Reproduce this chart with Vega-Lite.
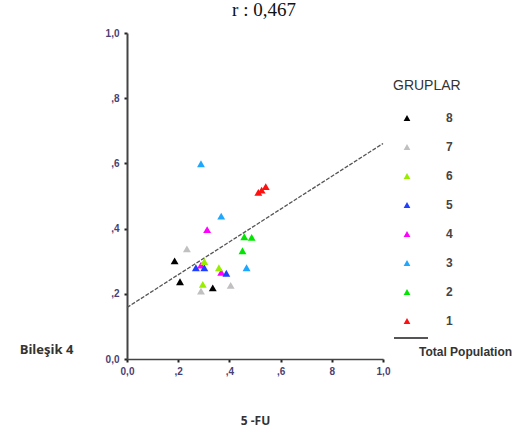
{
  "$schema": "https://vega.github.io/schema/vega-lite/v6.json",
  "width": 256,
  "height": 326,
  "autosize": "none",
  "padding": {"left": 127, "top": 33, "right": 132, "bottom": 77},
  "background": "white",
  "title": {"text": "r : 0,467", "font": "Liberation Serif", "fontSize": 19, "fontWeight": "normal", "color": "#111", "offset": 8, "dx": 9, "anchor": "middle"},
  "config": {"view": {"stroke": null}},
  "encoding": {
    "x": {"field": "x", "type": "quantitative", "scale": {"domain": [0, 1], "nice": false},
      "axis": {"values": [0, 0.2, 0.4, 0.6, 0.8, 1], "grid": false, "labelFlush": false,
        "labelExpr": "datum.value < 0.01 ? '0,0' : datum.value > 0.99 ? '1,0' : (datum.value > 0.79 && datum.value < 0.81) ? '8' : ',' + round(datum.value * 10)",
        "labelFont": "Liberation Sans", "labelFontWeight": "bold", "labelFontSize": 10, "labelColor": "#4b3f72", "labelPadding": 4,
        "domainColor": "#444", "domainWidth": 1.5, "tickColor": "#222", "tickSize": 3, "tickWidth": 2,
        "title": "5 -FU", "titleFont": "Open Sans", "titleFontWeight": "bold", "titleFontSize": 12, "titleColor": "#333",
        "titleX": 128, "titleY": 61, "titleBaseline": "middle", "titleAlign": "center"}},
    "y": {"field": "y", "type": "quantitative", "scale": {"domain": [0, 1], "nice": false},
      "axis": {"values": [0, 0.2, 0.4, 0.6, 0.8, 1], "grid": false, "labelFlush": false,
        "labelExpr": "datum.value < 0.01 ? '0,0' : datum.value > 0.99 ? '1,0' : ',' + round(datum.value * 10)",
        "labelFont": "Liberation Sans", "labelFontWeight": "bold", "labelFontSize": 10, "labelColor": "#4b3f72", "labelPadding": 5,
        "domainColor": "#444", "domainWidth": 2, "tickColor": "#222", "tickSize": 3, "tickWidth": 2,
        "title": "Bileşik 4", "titleAngle": 0, "titleFont": "Open Sans", "titleFontWeight": "bold", "titleFontSize": 13, "titleColor": "#333",
        "titleX": -81, "titleY": 316, "titleBaseline": "middle", "titleAlign": "center"}}
  },
  "layer": [
    {
      "data": {"values": [{"x": 0, "y": 0.158}, {"x": 1, "y": 0.661}]},
      "mark": {"type": "line", "strokeDash": [4, 1.5], "strokeWidth": 1.3},
      "encoding": {
        "stroke": {"datum": "Total Population", "type": "nominal", "scale": {"domain": ["Total Population"], "range": ["#555555"]},
          "legend": {"orient": "none", "legendX": 266, "legendY": 287, "title": null, "symbolType": "stroke", "symbolSize": 1156, "symbolStrokeWidth": 2,
            "symbolDash": [], "labelOffset": -10, "labelExpr": "['', '', datum.label]", "labelFont": "Liberation Sans", "labelFontWeight": "bold", "labelFontSize": 12, "labelColor": "#333", "labelLimit": 200}}
      }
    },
    {
      "data": {"values": [
        {"x": 0.513, "y": 0.511, "g": "1"}, {"x": 0.526, "y": 0.518, "g": "1"}, {"x": 0.542, "y": 0.529, "g": "1"},
        {"x": 0.458, "y": 0.375, "g": "2"}, {"x": 0.487, "y": 0.373, "g": "2"}, {"x": 0.451, "y": 0.332, "g": "2"},
        {"x": 0.289, "y": 0.599, "g": "3"}, {"x": 0.368, "y": 0.438, "g": "3"}, {"x": 0.467, "y": 0.280, "g": "3"},
        {"x": 0.313, "y": 0.397, "g": "4"}, {"x": 0.289, "y": 0.288, "g": "4"}, {"x": 0.368, "y": 0.266, "g": "4"},
        {"x": 0.269, "y": 0.280, "g": "5"}, {"x": 0.302, "y": 0.280, "g": "5"}, {"x": 0.388, "y": 0.263, "g": "5"},
        {"x": 0.302, "y": 0.299, "g": "6"}, {"x": 0.359, "y": 0.280, "g": "6"}, {"x": 0.296, "y": 0.229, "g": "6"},
        {"x": 0.234, "y": 0.338, "g": "7"}, {"x": 0.289, "y": 0.208, "g": "7"}, {"x": 0.405, "y": 0.226, "g": "7"},
        {"x": 0.186, "y": 0.301, "g": "8"}, {"x": 0.207, "y": 0.237, "g": "8"}, {"x": 0.335, "y": 0.218, "g": "8"}
      ]},
      "mark": {"type": "point", "shape": "triangle-up", "filled": true, "size": 62, "opacity": 1},
      "encoding": {
        "fill": {"field": "g", "type": "nominal",
          "scale": {"domain": ["8", "7", "6", "5", "4", "3", "2", "1"], "range": ["#000000", "#c0c0c0", "#99ee00", "#1f3fff", "#ff00ff", "#1ea7ff", "#00e600", "#ff1010"]},
          "legend": {"orient": "none", "legendX": 266, "legendY": 46, "title": "GRUPLAR", "titleFont": "Liberation Sans", "titleFontSize": 14, "titleFontWeight": "normal", "titleColor": "#333", "titlePadding": 19,
            "symbolType": "triangle-up", "symbolSize": 45, "symbolOffset": 8, "symbolStrokeWidth": 0, "labelOffset": 33,
            "labelFont": "Liberation Sans", "labelFontSize": 12, "labelFontWeight": "bold", "labelColor": "#444", "rowPadding": 17}}
      }
    }
  ]
}
